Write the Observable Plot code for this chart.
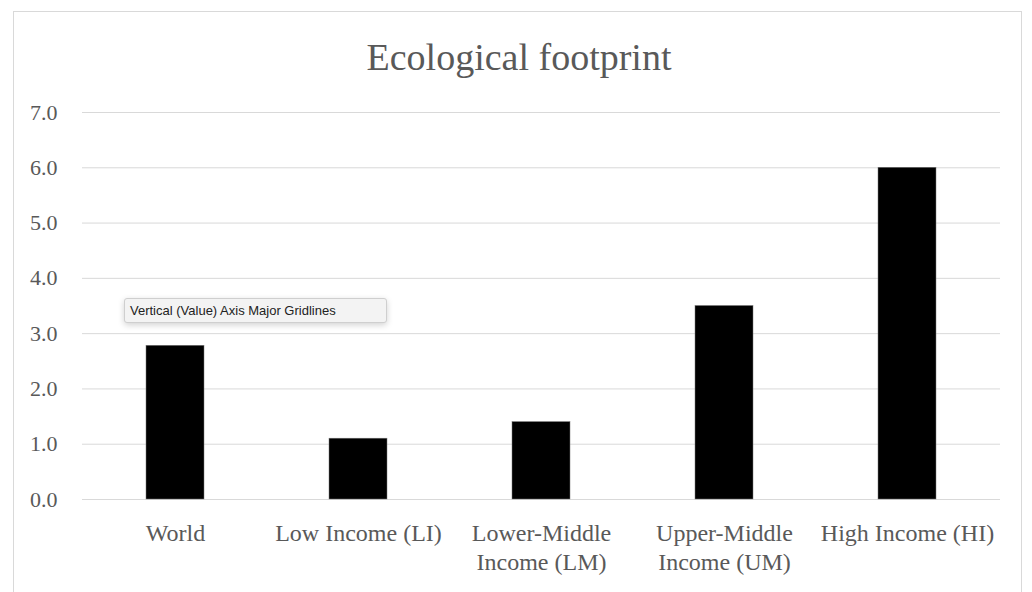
<!DOCTYPE html>
<html>
<head>
<meta charset="utf-8">
<script src="https://cdn.jsdelivr.net/npm/d3@7"></script>
<script src="https://cdn.jsdelivr.net/npm/@observablehq/plot@0.6"></script>
<style>
  html, body { margin: 0; padding: 0; background: #fff; width: 1032px; height: 592px; overflow: hidden; }
  #frame { position: absolute; left: 13px; top: 11px; width: 1009px; height: 620px; border: 1px solid #d9d9d9; box-sizing: border-box; }
  #title { position: absolute; left: 0; top: 38px; width: 1038px; text-align: center; font-family: "Liberation Serif", serif; font-size: 38px; line-height: 38px; color: #595959; }
  #chart { position: absolute; left: 0; top: 80px; }
  #tip { position: absolute; left: 124px; top: 298px; width: 263px; height: 25px; box-sizing: border-box; background: #f3f3f3; border: 1px solid #cfcfcf; border-radius: 3px; box-shadow: 0 2px 6px rgba(0,0,0,0.18); font-family: "Liberation Sans", Arial, sans-serif; font-size: 13px; line-height: 23px; color: #222; padding-left: 5px; white-space: nowrap; }
</style>
</head>
<body>
<div id="frame"></div>
<div id="title">Ecological footprint</div>
<div id="chart"></div>
<div id="tip">Vertical (Value) Axis Major Gridlines</div>
<script>
const categories = ["World", "Low Income (LI)", "Lower-Middle\nIncome (LM)", "Upper-Middle\nIncome (UM)", "High Income (HI)"];
const values = [2.78, 1.1, 1.4, 3.5, 6.0];
const yTicks = [0, 1, 2, 3, 4, 5, 6, 7];

const data = categories.map((c, i) => ({category: c, value: values[i]}));

const plot = Plot.plot({
  width: 1032,
  height: 512,
  marginLeft: 82,
  marginRight: 32,
  marginTop: 32,
  marginBottom: 93,
  style: {fontFamily: "'Liberation Serif', serif", color: "#595959", background: "transparent", overflow: "visible"},
  x: {domain: categories, paddingInner: 0.684, paddingOuter: 0.342, label: null},
  y: {domain: [0, 7], label: null},
  marks: [
    Plot.gridY(yTicks, {stroke: "#d9d9d9", strokeOpacity: 1, strokeWidth: 1}),
    Plot.barY(data, {x: "category", y: "value", fill: "#000", stroke: "#777", strokeWidth: 0.5}),
    Plot.axisY(yTicks, {tickSize: 0, tickPadding: 25, tickFormat: d3.format(".1f"), fontSize: 22, fill: "#595959", label: null}),
    Plot.axisX({tickSize: 0, tickPadding: 21, fontSize: 24, fill: "#595959", lineHeight: 1.2, label: null})
  ]
});
document.getElementById("chart").appendChild(plot);
</script>
</body>
</html>
